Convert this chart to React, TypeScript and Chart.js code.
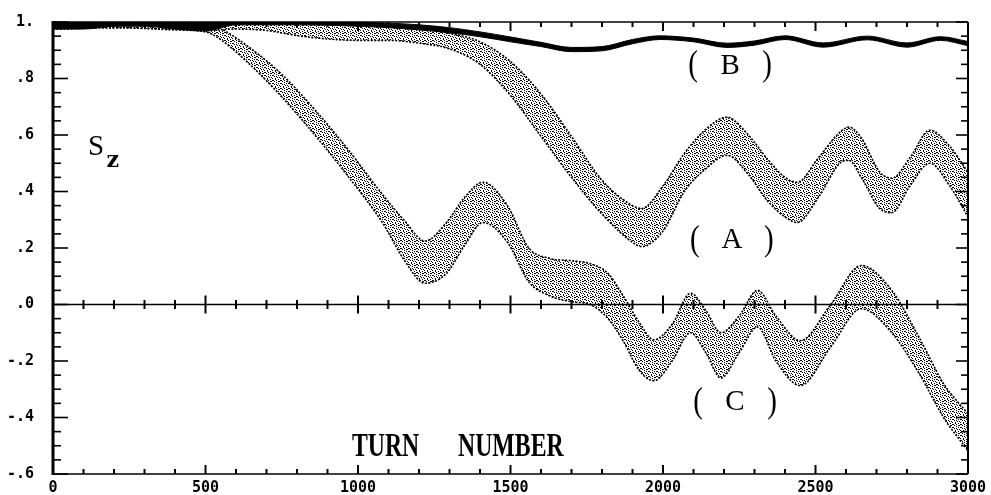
import React, { useEffect, useRef } from "react";
import { Chart, registerables } from "chart.js";

Chart.register(...registerables);

// ---- Data ----
const bTurns = [0, 100, 200, 300, 400, 500, 600, 800, 1000, 1100, 1200, 1300, 1400, 1500, 1600, 1700, 1800, 1900, 1990, 2100, 2210, 2300, 2400, 2525, 2670, 2800, 2910, 3000];
const bUpper = [1.0, 0.998, 0.997, 0.998, 0.997, 0.997, 1.0, 1.0, 0.998, 0.996, 0.99, 0.98, 0.965, 0.947, 0.928, 0.91, 0.913, 0.938, 0.951, 0.943, 0.925, 0.933, 0.951, 0.926, 0.95, 0.926, 0.948, 0.931];
const bLower = [0.975, 0.975, 0.985, 0.985, 0.975, 0.968, 0.99, 0.99, 0.985, 0.98, 0.972, 0.962, 0.948, 0.93, 0.913, 0.895, 0.898, 0.923, 0.938, 0.93, 0.91, 0.918, 0.938, 0.911, 0.937, 0.911, 0.935, 0.916];

const aTurns = [0, 200, 400, 500, 600, 700, 800, 900, 1000, 1100, 1200, 1300, 1400, 1500, 1600, 1700, 1800, 1900, 1930, 2000, 2070, 2140, 2210, 2280, 2340, 2400, 2440, 2510, 2580, 2610, 2650, 2710, 2750, 2810, 2875, 2940, 3000];
const aUpper = [0.998, 0.996, 0.996, 0.997, 0.998, 0.998, 0.996, 0.994, 0.993, 0.99, 0.977, 0.96, 0.93, 0.86, 0.745, 0.595, 0.44, 0.35, 0.34, 0.42, 0.535, 0.62, 0.663, 0.6, 0.518, 0.45, 0.433, 0.52, 0.61, 0.628, 0.59, 0.47, 0.447, 0.52, 0.617, 0.56, 0.468];
const aLower = [0.975, 0.98, 0.975, 0.97, 0.975, 0.97, 0.952, 0.94, 0.935, 0.935, 0.925, 0.905, 0.85, 0.74, 0.595, 0.45, 0.32, 0.22, 0.205, 0.26, 0.4, 0.48, 0.528, 0.46, 0.37, 0.31, 0.29, 0.38, 0.5, 0.51, 0.45, 0.34, 0.325, 0.42, 0.5, 0.42, 0.31];

const cTurns = [0, 200, 400, 500, 540, 650, 750, 870, 970, 1080, 1150, 1220, 1290, 1350, 1410, 1490, 1560, 1630, 1700, 1760, 1820, 1870, 1920, 1970, 2030, 2090, 2140, 2190, 2250, 2310, 2370, 2450, 2550, 2650, 2750, 2840, 2920, 3000];
const cUpper = [0.998, 0.996, 0.996, 0.995, 0.982, 0.905, 0.815, 0.675, 0.545, 0.39, 0.3, 0.225, 0.29, 0.38, 0.433, 0.35, 0.2, 0.163, 0.155, 0.145, 0.11, 0.03, -0.06, -0.125, -0.07, 0.04, -0.02, -0.1, -0.04, 0.05, -0.04, -0.128, 0.0, 0.138, 0.05, -0.117, -0.28, -0.387];
const cLower = [0.975, 0.98, 0.972, 0.965, 0.945, 0.845, 0.735, 0.585, 0.45, 0.29, 0.16, 0.075, 0.11, 0.21, 0.29, 0.22, 0.08, 0.03, 0.01, 0.0, -0.05, -0.13, -0.23, -0.27, -0.2, -0.1, -0.17, -0.26, -0.17, -0.08, -0.2, -0.287, -0.15, -0.015, -0.1, -0.245, -0.4, -0.518];

const xTickValues = [0, 500, 1000, 1500, 2000, 2500, 3000];
const xTickLabels = ["0", "500", "1000", "1500", "2000", "2500", "3000"];
const yTickValues = [-0.6, -0.4, -0.2, 0, 0.2, 0.4, 0.6, 0.8, 1.0];
const yTickLabels = ["-.6", "-.4", "-.2", ".0", ".2", ".4", ".6", ".8", "1."];

const curveLabels = [
  { text: "B", x: 2220, y: 0.844 },
  { text: "A", x: 2226, y: 0.227 },
  { text: "C", x: 2236, y: -0.348 },
];

const pts = (turns: number[], vals: number[]) => turns.map((t, i) => ({ x: t, y: vals[i] }));

function makePattern(): CanvasPattern | string {
  const rows = [
    "XX..X...",
    "..X...XX",
    "....X...",
    "XX....X.",
    "..X.X...",
    ".....X.X",
    "X..X....",
    "...X..X.",
  ];
  const c = document.createElement("canvas");
  c.width = 8;
  c.height = 8;
  const g = c.getContext("2d");
  if (!g) return "#888";
  g.fillStyle = "#fff";
  g.fillRect(0, 0, 8, 8);
  g.fillStyle = "#000";
  rows.forEach((r, yy) => {
    for (let xx = 0; xx < r.length; xx++) if (r[xx] === "X") g.fillRect(xx, yy, 1, 1);
  });
  const p = g.createPattern(c, "repeat");
  return p || "#888";
}

const framePlugin = {
  id: "frame",
  afterDraw(chart: any) {
    const { ctx, chartArea: ca, scales } = chart;
    const x = scales.x;
    const y = scales.y;
    ctx.save();
    ctx.strokeStyle = "#000";
    ctx.fillStyle = "#000";
    const line = (x1: number, y1: number, x2: number, y2: number, w: number) => {
      ctx.lineWidth = w;
      ctx.beginPath();
      ctx.moveTo(x1, y1);
      ctx.lineTo(x2, y2);
      ctx.stroke();
    };
    // frame
    line(ca.left, ca.top - 1, ca.left, ca.bottom + 1, 3);
    line(ca.left, ca.bottom, ca.right, ca.bottom, 1.5);
    line(ca.left, ca.top, ca.right, ca.top, 1.5);
    line(ca.right, ca.top, ca.right, ca.bottom, 2);
    const y0 = y.getPixelForValue(0);
    line(ca.left, y0, ca.right, y0, 1.5);
    // x ticks
    for (let t = 0; t <= 3000; t += 100) {
      const px = x.getPixelForValue(t);
      const major = t % 500 === 0;
      const len = major ? 9 : 5;
      line(px, ca.bottom, px, ca.bottom - len, 2);
      line(px, ca.top, px, ca.top + len, 2);
      line(px, y0 - (major ? 9 : 4.5), px, y0 + (major ? 9 : 4.5), 2);
    }
    // y ticks
    for (let i = 0; i <= 32; i++) {
      const v = -0.6 + i * 0.05;
      const py = y.getPixelForValue(v);
      const major = i % 4 === 0;
      line(ca.left, py, ca.left + (major ? 15 : 8), py, 1.6);
      line(ca.right, py, ca.right - (major ? 12 : 7), py, 1.6);
    }
    // curve labels
    ctx.font = "29px 'Liberation Serif'";
    ctx.textAlign = "center";
    ctx.textBaseline = "middle";
    curveLabels.forEach((l) => {
      const cx = x.getPixelForValue(l.x);
      const cy = y.getPixelForValue(l.y);
      ctx.save();
      ctx.translate(cx, cy);
      ctx.scale(1, 1.2);
      ctx.fillText("(", -37, 0);
      ctx.fillText(")", 37, 0);
      ctx.restore();
      ctx.fillText(l.text, cx, cy);
    });
    // S_z
    ctx.textAlign = "left";
    ctx.textBaseline = "alphabetic";
    ctx.font = "29px 'Liberation Serif'";
    ctx.fillText("S", x.getPixelForValue(115), y.getPixelForValue(0.53));
    ctx.font = "bold 22px 'DejaVu Serif'";
    ctx.fillText("z", x.getPixelForValue(175), y.getPixelForValue(0.487));
    // TURN NUMBER
    const drawCond = (s: string, tx: number, vy: number) => {
      ctx.save();
      ctx.translate(x.getPixelForValue(tx), y.getPixelForValue(vy));
      ctx.scale(0.72, 1);
      ctx.font = "bold 33px 'Liberation Serif'";
      ctx.fillText(s, 0, 0);
      ctx.restore();
    };
    drawCond("TURN", 980, -0.535);
    drawCond("NUMBER", 1328, -0.535);
    ctx.restore();
  },
};

export default function App() {
  const ref = useRef<HTMLCanvasElement | null>(null);
  useEffect(() => {
    if (!ref.current) return;
    const pattern = makePattern();
    const edge = { borderColor: "#000", borderWidth: 1.6, borderDash: [2, 1.5] };
    const chart = new Chart(ref.current, {
      type: "line",
      data: {
        datasets: [
          { label: "B upper", data: pts(bTurns, bUpper), borderColor: "#000", borderWidth: 1, fill: false },
          { label: "B lower", data: pts(bTurns, bLower), borderColor: "#000", borderWidth: 1, fill: "-1", backgroundColor: "#000" },
          { label: "A upper", data: pts(aTurns, aUpper), ...edge, fill: false },
          { label: "A lower", data: pts(aTurns, aLower), ...edge, fill: "-1", backgroundColor: pattern },
          { label: "C upper", data: pts(cTurns, cUpper), ...edge, fill: false },
          { label: "C lower", data: pts(cTurns, cLower), ...edge, fill: "-1", backgroundColor: pattern },
        ] as any,
      },
      options: {
        responsive: false,
        animation: false,
        devicePixelRatio: 1,
        layout: { padding: { left: 0, top: 22, right: 23, bottom: 0 } },
        plugins: { legend: { display: false }, tooltip: { enabled: false } },
        elements: {
          point: { radius: 0 },
          line: { cubicInterpolationMode: "monotone" },
        },
        scales: {
          x: {
            type: "linear",
            min: 0,
            max: 3000,
            afterFit: (s: any) => {
              s.height = 21;
            },
            afterBuildTicks: (s: any) => {
              s.ticks = xTickValues.map((v) => ({ value: v }));
            },
            grid: { display: false },
            border: { display: false },
            ticks: {
              autoSkip: false,
              maxRotation: 0,
              padding: -3,
              color: "#000",
              font: { family: "'DejaVu Sans Mono'", weight: "bold", size: 15 },
              callback: (v: any) => xTickLabels[xTickValues.indexOf(Number(v))] ?? "",
            },
          },
          y: {
            type: "linear",
            min: -0.6,
            max: 1.0,
            afterFit: (s: any) => {
              s.width = 53;
            },
            afterBuildTicks: (s: any) => {
              s.ticks = yTickValues.map((v) => ({ value: v }));
            },
            grid: { display: false },
            border: { display: false },
            ticks: {
              autoSkip: false,
              padding: 11,
              color: "#000",
              font: { family: "'DejaVu Sans Mono'", weight: "bold", size: 15 },
              callback: (v: any) => {
                const i = yTickValues.findIndex((t) => Math.abs(t - Number(v)) < 1e-6);
                return i >= 0 ? yTickLabels[i] : "";
              },
            },
          },
        },
      } as any,
      plugins: [framePlugin],
    });
    return () => chart.destroy();
  }, []);
  return (
    <div style={{ position: "absolute", left: 0, top: 0, width: 991, height: 495, background: "#fff" }}>
      <canvas ref={ref} width={991} height={495} style={{ display: "block" }} />
    </div>
  );
}
